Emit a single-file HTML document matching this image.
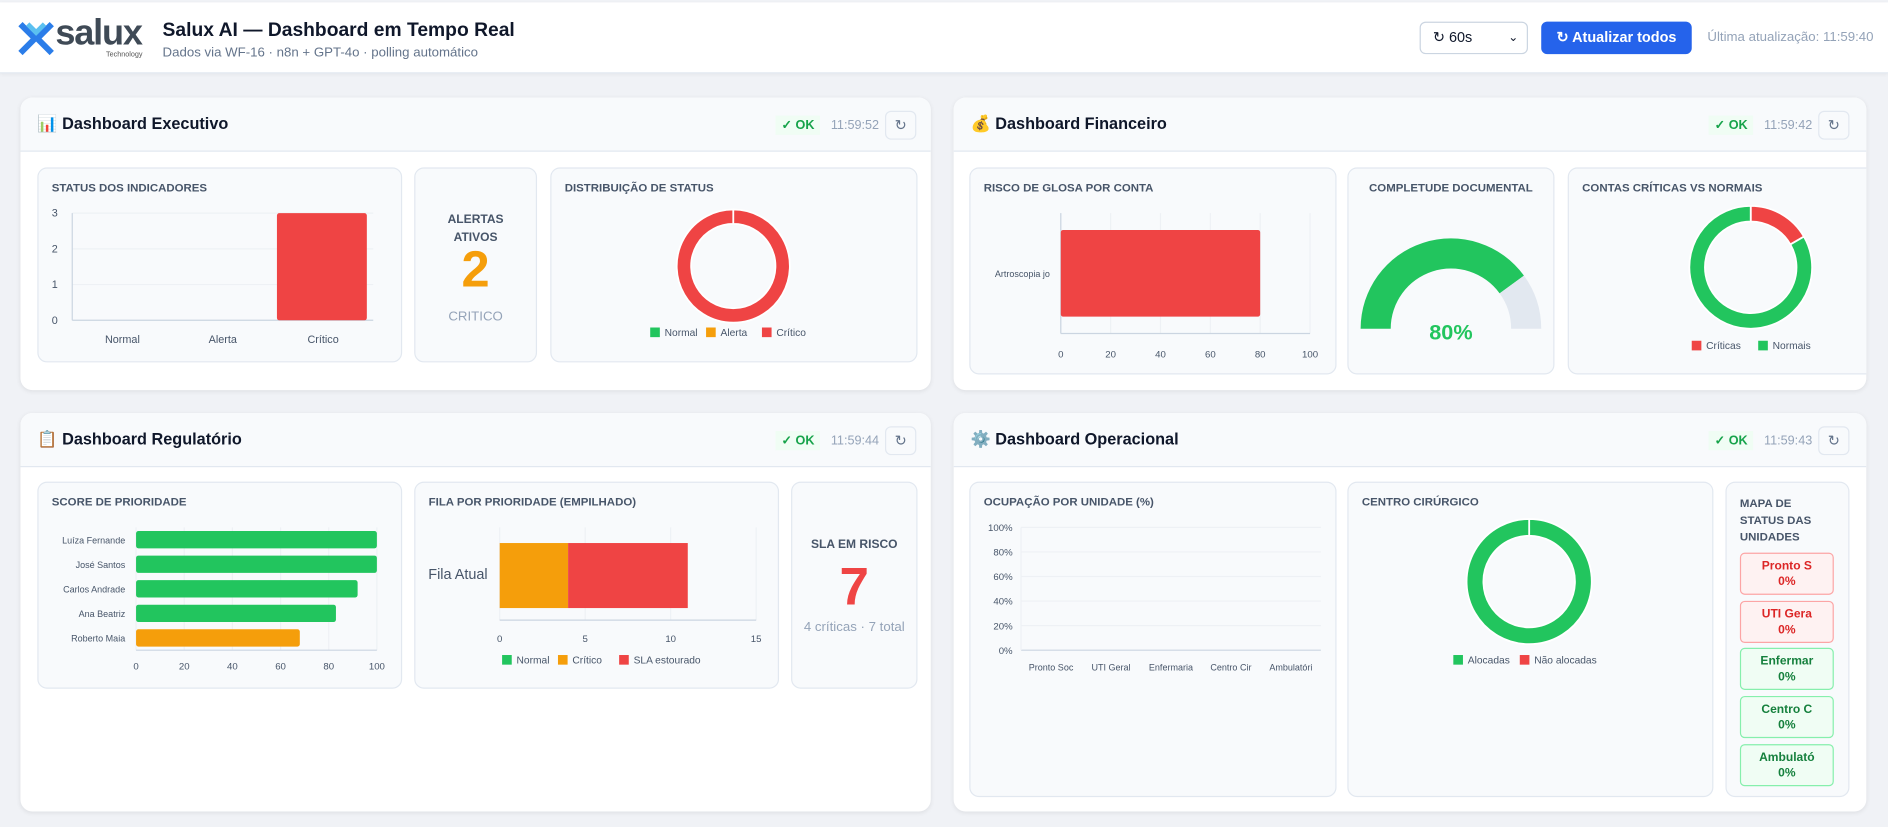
<!DOCTYPE html>
<html><head><meta charset="utf-8">
<style>
html,body{margin:0;padding:0;width:1888px;height:827px;overflow:hidden;background:#f0f2f6;font-family:"Liberation Sans",sans-serif;}
#wrap{position:absolute;left:0;top:0;width:1568px;height:687px;transform:scale(1.20408);transform-origin:0 0;}
.abs{position:absolute;}
header{position:absolute;left:0;top:2px;width:1568px;height:58px;background:#fff;border-bottom:1px solid #e2e8f0;box-shadow:0 1px 3px rgba(0,0,0,.05);}
.card{position:absolute;background:#fff;border-radius:10px;box-shadow:0 1px 4px rgba(0,0,0,.08);overflow:hidden;}
.chead{position:absolute;left:0;top:0;right:0;height:44px;background:#f8fafc;border-bottom:1px solid #e2e8f0;}
.ctitle{position:absolute;left:14px;top:14px;font-size:13.5px;font-weight:bold;color:#0f172a;}
.ok{position:absolute;top:15px;font-size:10.5px;color:#16a34a;background:#f0fdf4;padding:2px 5px;font-weight:bold;}
.time{position:absolute;top:17px;font-size:10.5px;color:#94a3b8;}
.rbtn{position:absolute;top:11px;width:24px;height:22px;border:1px solid #e2e8f0;border-radius:5px;background:#f8fafc;color:#64748b;font-size:12px;text-align:center;line-height:22px;}
.panel{position:absolute;background:#f8fafc;border:1px solid #e2e8f0;border-radius:8px;box-sizing:border-box;}
.ptitle{position:absolute;left:11px;top:11px;font-size:9.5px;font-weight:bold;color:#475569;}
svg text{font-family:"Liberation Sans",sans-serif;}
.tile{position:absolute;left:11px;width:78px;height:35px;border-radius:4px;box-sizing:border-box;text-align:center;font-size:10px;font-weight:bold;line-height:13px;padding-top:4px;}
.tr{background:#fef2f2;border:1px solid #fca5a5;color:#dc2626;}
.tg{background:#f0fdf4;border:1px solid #86efac;color:#15803d;}
</style></head><body>
<div id="wrap">
<header>
  <svg class="abs" style="left:15px;top:15px" width="30" height="30">
    <path d="M2 3 L14 15 L2 27 M28 3 L16 15 L28 27" stroke="#2b7de9" stroke-width="5" fill="none"/>
    <path d="M8 3 L15 10 L22 3" stroke="#5bc0f0" stroke-width="4" fill="none"/>
  </svg>
  <div class="abs" style="left:46px;top:9px;font-size:30px;font-weight:bold;color:#3f4a56;letter-spacing:-1px">salux</div>
  <div class="abs" style="left:88px;top:41px;font-size:6px;color:#555">Technology</div>
  <div class="abs" style="left:135px;top:15px;font-size:16px;font-weight:bold;color:#0f172a">Salux AI — Dashboard em Tempo Real</div>
  <div class="abs" style="left:135px;top:36px;font-size:11px;color:#64748b">Dados via WF-16 · n8n + GPT-4o · polling automático</div>
  <div class="abs" style="left:1179px;top:16px;width:90px;height:27px;border:1px solid #cbd5e1;border-radius:5px;box-sizing:border-box;font-size:12px;color:#0f172a;line-height:25px;padding-left:10px">↻ 60s<span style="position:absolute;right:7px;top:0;font-size:10px">⌄</span></div>
  <div class="abs" style="left:1280px;top:16px;width:125px;height:27px;background:#2563eb;border-radius:5px;color:#fff;font-size:12px;font-weight:bold;text-align:center;line-height:27px">↻ Atualizar todos</div>
  <div class="abs" style="left:1418px;top:23px;font-size:11px;color:#94a3b8">Última atualização: 11:59:40</div>
</header>

<div class="card" style="left:17px;top:81px;width:756px;height:243px">
  <div class="chead"><div class="ctitle">📊 Dashboard Executivo</div>
  <div class="ok" style="left:627px">✓ OK</div>
  <div class="time" style="left:673px">11:59:52</div>
  <div class="rbtn" style="left:718px">↻</div></div>
  <div class="panel" style="left:14px;top:58px;width:303px;height:162px"><div class="ptitle">STATUS DOS INDICADORES</div></div>
  <div class="panel" style="left:327px;top:58px;width:102px;height:162px;text-align:center">
    <div style="position:absolute;left:0;right:0;top:35px;font-size:10px;font-weight:bold;color:#475569;line-height:15px">ALERTAS<br>ATIVOS</div>
    <div style="position:absolute;left:0;right:0;top:60px;font-size:42px;font-weight:bold;color:#f59e0b">2</div>
    <div style="position:absolute;left:0;right:0;top:117px;font-size:11px;color:#94a3b8">CRITICO</div>
  </div>
  <div class="panel" style="left:440px;top:58px;width:305px;height:162px"><div class="ptitle">DISTRIBUIÇÃO DE STATUS</div></div>
</div>

<div class="card" style="left:792px;top:81px;width:758px;height:243px">
  <div class="chead"><div class="ctitle">💰 Dashboard Financeiro</div>
  <div class="ok" style="left:627px">✓ OK</div>
  <div class="time" style="left:673px">11:59:42</div>
  <div class="rbtn" style="left:718px">↻</div></div>
  <div class="panel" style="left:13px;top:58px;width:305px;height:172px"><div class="ptitle">RISCO DE GLOSA POR CONTA</div></div>
  <div class="panel" style="left:327px;top:58px;width:172px;height:172px"><div class="ptitle" style="left:0;right:0;text-align:center">COMPLETUDE DOCUMENTAL</div></div>
  <div class="panel" style="left:510px;top:58px;width:260px;height:172px"><div class="ptitle">CONTAS CRÍTICAS VS NORMAIS</div></div>
</div>

<div class="card" style="left:17px;top:343px;width:756px;height:331px">
  <div class="chead"><div class="ctitle">📋 Dashboard Regulatório</div>
  <div class="ok" style="left:627px">✓ OK</div>
  <div class="time" style="left:673px">11:59:44</div>
  <div class="rbtn" style="left:718px">↻</div></div>
  <div class="panel" style="left:14px;top:57px;width:303px;height:172px"><div class="ptitle">SCORE DE PRIORIDADE</div></div>
  <div class="panel" style="left:327px;top:57px;width:303px;height:172px"><div class="ptitle">FILA POR PRIORIDADE (EMPILHADO)</div></div>
  <div class="panel" style="left:640px;top:57px;width:105px;height:172px;text-align:center">
    <div style="position:absolute;left:0;right:0;top:46px;font-size:10px;font-weight:bold;color:#475569">SLA EM RISCO</div>
    <div style="position:absolute;left:0;right:0;top:62px;font-size:44px;font-weight:bold;color:#ef4444">7</div>
    <div style="position:absolute;left:0;right:0;top:114px;font-size:11px;color:#94a3b8">4 críticas · 7 total</div>
  </div>
</div>

<div class="card" style="left:792px;top:343px;width:758px;height:331px">
  <div class="chead"><div class="ctitle">⚙️ Dashboard Operacional</div>
  <div class="ok" style="left:627px">✓ OK</div>
  <div class="time" style="left:673px">11:59:43</div>
  <div class="rbtn" style="left:718px">↻</div></div>
  <div class="panel" style="left:13px;top:57px;width:305px;height:262px"><div class="ptitle">OCUPAÇÃO POR UNIDADE (%)</div></div>
  <div class="panel" style="left:327px;top:57px;width:304px;height:262px"><div class="ptitle">CENTRO CIRÚRGICO</div></div>
  <div class="panel" style="left:641px;top:57px;width:103px;height:262px">
    <div class="ptitle" style="line-height:14px">MAPA DE<br>STATUS DAS<br>UNIDADES</div>
    <div class="tile tr" style="top:58px">Pronto S<br>0%</div>
    <div class="tile tr" style="top:98px">UTI Gera<br>0%</div>
    <div class="tile tg" style="top:137px">Enfermar<br>0%</div>
    <div class="tile tg" style="top:177px">Centro C<br>0%</div>
    <div class="tile tg" style="top:217px">Ambulató<br>0%</div>
  </div>
</div>

<svg id="charts" class="abs" style="left:0;top:0" width="1568" height="687"></svg>
</div>
<script>
const statusCats = ['Normal','Alerta','Crítico'];
const statusVals = [0,0,3];
const statusTicks = [0,1,2,3];
const distVals = [0,0,3];
const glosaCats = ['Artroscopia jo'];
const glosaVals = [80];
const glosaTicks = [0,20,40,60,80,100];
const completude = 80;
const contasLabels = ['Críticas','Normais'];
const contasVals = [1,5];
const prioNames = ['Luíza Fernande','José Santos','Carlos Andrade','Ana Beatriz','Roberto Maia'];
const prioVals = [100,100,92,83,68];
const prioTicks = [0,20,40,60,80,100];
const filaSeries = ['Normal','Crítico','SLA estourado'];
const filaVals = [0,4,7];
const filaTicks = [0,5,10,15];
const ocupCats = ['Pronto Soc','UTI Geral','Enfermaria','Centro Cir','Ambulatóri'];
const ocupVals = [0,0,0,0,0];
const ocupTicks = [0,20,40,60,80,100];
const cirLabels = ['Alocadas','Não alocadas'];
const cirVals = [1,0];

const G='#22c55e',O='#f59e0b',R='#ef4444',GRID='#eef1f5',AX='#cbd5e1',TX='#475569';
const svg=document.getElementById('charts');
function el(t,a,txt){const e=document.createElementNS('http://www.w3.org/2000/svg',t);for(const k in a)e.setAttribute(k,a[k]);if(txt!==undefined)e.textContent=txt;svg.appendChild(e);return e;}
function lin(d0,d1,r0,r1){return v=>r0+(v-d0)/(d1-d0)*(r1-r0);}
function arc(cx,cy,ro,ri,a0,a1){const p=(r,a)=>[cx+r*Math.sin(a),cy-r*Math.cos(a)];if(a1-a0>=Math.PI*2-1e-6)a1=a0+Math.PI*2-1e-4;const L=(a1-a0)>Math.PI?1:0;const [x0,y0]=p(ro,a0),[x1,y1]=p(ro,a1),[x2,y2]=p(ri,a1),[x3,y3]=p(ri,a0);return `M${x0} ${y0}A${ro} ${ro} 0 ${L} 1 ${x1} ${y1}L${x2} ${y2}A${ri} ${ri} 0 ${L} 0 ${x3} ${y3}Z`;}
function donut(cx,cy,ro,ri,vals,cols,name){const tot=vals.reduce((a,b)=>a+b,0);let a=0;vals.forEach((v,i)=>{if(v<=0)return;const a1=a+v/tot*Math.PI*2;const p=el('path',{d:arc(cx,cy,ro,ri,a,a1),fill:cols[i],stroke:'#fff','stroke-width':1.5});


a=a1;});}
function legend(x,y,labels,cols,name){let cx=x;labels.forEach((l,i)=>{const r=el('rect',{x:cx,y:y-7,width:8,height:8,fill:cols[i]});


el('text',{x:cx+12,y:y,'font-size':8.5,fill:TX},l);cx+=12+l.length*4.4+8;});}

{const x0=60,x1=310,y0=266,y1=177;const y=lin(0,3,y0,y1);const bw=(x1-x0)/statusCats.length;
statusTicks.forEach(t=>{el('line',{x1:x0,x2:x1,y1:y(t),y2:y(t),stroke:t?GRID:AX});el('text',{x:x0-12,y:y(t)+3,'font-size':9,fill:TX,'text-anchor':'end'},t);});
el('line',{x1:x0,x2:x0,y1:y1,y2:y0,stroke:AX});
statusCats.forEach((c,i)=>{const v=statusVals[i];if(v>0){const b=el('rect',{x:x0+bw*i+bw*0.04,y:y(v),width:bw*0.92-2,height:y0-y(v),fill:R,rx:2});

}
el('text',{x:x0+bw*(i+0.5),y:285,'font-size':9,fill:TX,'text-anchor':'middle'},c);});}
donut(609,221,47,35,distVals,[G,O,R],'status-distribution');
legend(540,279,statusCats,[G,O,R],'status-distribution');

{const x0=881,x1=1088,y0=277,y1=177;const x=lin(0,100,x0,x1);
glosaTicks.forEach(t=>{el('line',{x1:x(t),x2:x(t),y1:y1,y2:y0,stroke:GRID});el('text',{x:x(t),y:297,'font-size':8,fill:TX,'text-anchor':'middle'},t);});
el('line',{x1:x0,x2:x1,y1:y0,y2:y0,stroke:AX});el('line',{x1:x0,x2:x0,y1:y1,y2:y0,stroke:AX});
const bh=(y0-y1)/glosaCats.length;glosaCats.forEach((c,i)=>{const b=el('rect',{x:x0,y:y1+bh*i+14,width:x(glosaVals[i])-x0,height:bh-28,fill:R,rx:2});


el('text',{x:x0-9,y:y1+bh*(i+0.5)+3,'font-size':7.5,fill:TX,'text-anchor':'end'},c);});}
{const cx=1205,cy=273,ro=75,ri=50;const a0=-Math.PI/2,am=a0+completude/100*Math.PI;
const g=el('path',{d:arc(cx,cy,ro,ri,a0,am),fill:G});


el('path',{d:arc(cx,cy,ro,ri,am,Math.PI/2),fill:'#e2e8f0'});
el('text',{x:cx,y:282,'font-size':18,'font-weight':'bold',fill:G,'text-anchor':'middle'},completude+'%');}
donut(1454,222,51,38,contasVals,[R,G],'critical-vs-normal');
legend(1405,290,contasLabels,[R,G],'critical-vs-normal');

{const x0=113,x1=313,y0=540,y1=438;const x=lin(0,100,x0,x1);
prioTicks.forEach(t=>{el('line',{x1:x(t),x2:x(t),y1:y1,y2:y0,stroke:GRID});el('text',{x:x(t),y:556,'font-size':8,fill:TX,'text-anchor':'middle'},t);});
el('line',{x1:x0,x2:x1,y1:y0,y2:y0,stroke:AX});
const bh=(y0-y1)/prioNames.length;prioNames.forEach((n,i)=>{const v=prioVals[i];const b=el('rect',{x:x0,y:y1+bh*i+3,width:x(v)-x0,height:bh-6,fill:v>=75?G:O,rx:2});


el('text',{x:x0-9,y:y1+bh*(i+0.5)+3,'font-size':7.5,fill:TX,'text-anchor':'end'},n);});}
{const x0=415,x1=628,y0=515,y1=438;const x=lin(0,15,x0,x1);const cols=[G,O,R];
filaTicks.forEach(t=>{el('line',{x1:x(t),x2:x(t),y1:y1,y2:y0,stroke:GRID});el('text',{x:x(t),y:533,'font-size':8,fill:TX,'text-anchor':'middle'},t);});
el('line',{x1:x0,x2:x1,y1:y0,y2:y0,stroke:AX});
let acc=0;filaVals.forEach((v,i)=>{if(v>0){const b=el('rect',{x:x(acc),y:451,width:x(acc+v)-x(acc),height:54,fill:cols[i]});

}acc+=v;});
el('text',{x:x0-10,y:481,'font-size':12,fill:TX,'text-anchor':'end'},'Fila Atual');
legend(417,551,filaSeries,cols,'priority-queue');}

{const x0=848,x1=1097,y0=540,y1=438;const y=lin(0,100,y0,y1);const bw=(x1-x0)/ocupCats.length;
ocupTicks.forEach(t=>{el('line',{x1:x0,x2:x1,y1:y(t),y2:y(t),stroke:t?GRID:AX});el('text',{x:x0-7,y:y(t)+3,'font-size':8,fill:TX,'text-anchor':'end'},t+'%');});
el('line',{x1:x0,x2:x0,y1:y1,y2:y0,stroke:GRID});
ocupCats.forEach((c,i)=>{const v=ocupVals[i];const b=el('rect',{x:x0+bw*i+6,y:y(v),width:bw-12,height:y0-y(v),fill:G});


el('text',{x:x0+bw*(i+0.5),y:557,'font-size':7.5,fill:TX,'text-anchor':'middle'},c);});}
donut(1270,483,52,38,cirVals,[G,R],'surgical-center');
legend(1207,551,cirLabels,[G,R],'surgical-center');
</script>
</body></html>
